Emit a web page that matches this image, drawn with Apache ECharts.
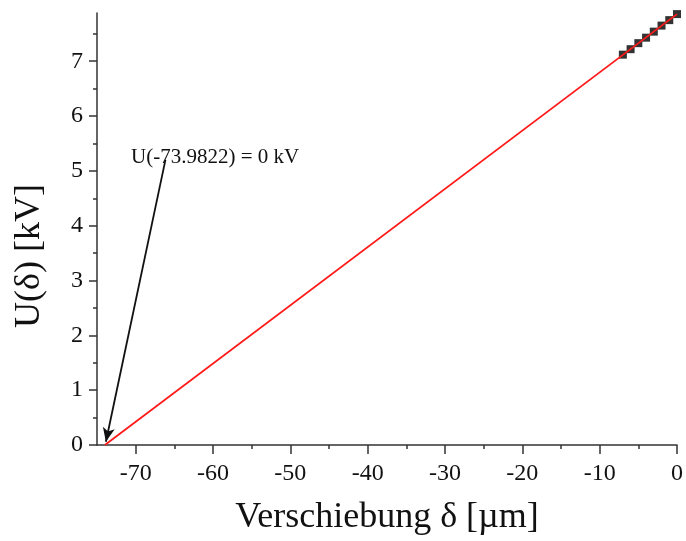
<!DOCTYPE html>
<html>
<head>
<meta charset="utf-8">
<script src="https://cdn.jsdelivr.net/npm/echarts@6/dist/echarts.min.js"></script>
<style>
  html, body { margin: 0; padding: 0; background: #fff; }
  #chart { width: 686px; height: 541px; }
</style>
</head>
<body>
<div id="chart"></div>
<script>
// Measured displacement δ [µm] and voltage U [kV]
const deltaValues = [-7, -6, -5, -4, -3, -2, -1, 0];
const voltageValues = [7.12, 7.22, 7.33, 7.43, 7.54, 7.65, 7.75, 7.86];

// Linear fit, drawn from its zero crossing up to δ = 0
const fitDelta = [-73.9822, 0];
const fitVoltage = [0, 7.86];

// Annotation: text anchor and arrow from text to zero crossing
const annotationText = 'U(-73.9822) = 0 kV';
const annotationAt = [-70.6, 5.24];
const arrowFrom = [-66.15, 5.2];
const arrowTo = [-73.85, 0.06];

// Axis ticks
const xMajorTicks = [-70, -60, -50, -40, -30, -20, -10, 0];
const xMinorTicks = [-65, -55, -45, -35, -25, -15, -5];
const yMajorTicks = [0, 1, 2, 3, 4, 5, 6, 7];
const yMinorTicks = [0.5, 1.5, 2.5, 3.5, 4.5, 5.5, 6.5, 7.5];

const xRange = [-75, 0];
const yRange = [0, 7.88];

const xTitle = 'Verschiebung δ [µm]';
const yTitle = 'U(δ) [kV]';

const FONT = '"Liberation Serif", "DejaVu Serif", serif';
const AXIS_COLOR = '#333';

const chart = echarts.init(document.getElementById('chart'), null, { renderer: 'canvas' });

function xAxisDef(ticks, len, withLabels, withLine, name) {
  return {
    type: 'value', min: xRange[0], max: xRange[1], position: 'bottom',
    name: name || '', nameLocation: 'middle', nameGap: 55,
    nameTextStyle: { fontFamily: FONT, fontSize: 36, color: '#111' },
    axisLine: { show: withLine, onZero: false, lineStyle: { color: AXIS_COLOR, width: 1.5 } },
    axisTick: { show: true, customValues: ticks, length: len, lineStyle: { color: AXIS_COLOR, width: 1.5 } },
    axisLabel: { show: withLabels, customValues: withLabels ? ticks : [], margin: 17,
      fontFamily: FONT, fontSize: 24, color: '#111' },
    splitLine: { show: false }
  };
}
function yAxisDef(ticks, len, withLabels, withLine) {
  return {
    type: 'value', min: yRange[0], max: yRange[1], position: 'left',
    axisLine: { show: withLine, onZero: false, lineStyle: { color: AXIS_COLOR, width: 1.5 } },
    axisTick: { show: true, customValues: ticks, length: len, lineStyle: { color: AXIS_COLOR, width: 1.5 } },
    axisLabel: { show: withLabels, customValues: withLabels ? ticks : [], margin: 14,
      fontFamily: FONT, fontSize: 24, color: '#111' },
    splitLine: { show: false }
  };
}

chart.setOption({
  animation: false,
  backgroundColor: '#fff',
  grid: { left: 97, right: 4, top: 13, bottom: 94, containLabel: false },
  xAxis: [
    xAxisDef(xMajorTicks, 9, true, true, xTitle),
    xAxisDef(xMinorTicks, 4, false, false)
  ],
  yAxis: [
    yAxisDef(yMajorTicks, 8, true, true),
    yAxisDef(yMinorTicks, 4, false, false)
  ],
  // vertical axis title, sitting slightly below the plot's middle
  graphic: [{
    type: 'text', x: 30, y: 256, rotation: Math.PI / 2,
    style: { text: yTitle, font: '36px ' + FONT, fill: '#111',
      textAlign: 'center', textVerticalAlign: 'middle' }
  }],
  series: [
    {
      name: 'Messwerte', type: 'scatter', xAxisIndex: 0, yAxisIndex: 0,
      symbol: 'rect', symbolSize: 8,
      itemStyle: { color: '#000' },
      data: deltaValues.map((d, i) => [d, voltageValues[i]]),
      z: 2
    },
    {
      name: 'Fit', type: 'line', xAxisIndex: 0, yAxisIndex: 0,
      showSymbol: false, symbol: 'none',
      lineStyle: { color: '#ff1a1a', width: 1.8 },
      data: fitDelta.map((d, i) => [d, fitVoltage[i]]),
      z: 3,
      markLine: {
        silent: true, animation: false,
        symbol: ['none', 'arrow'], symbolSize: [9, 14],
        lineStyle: { color: '#111', width: 1.8, type: 'solid' },
        label: { show: false },
        data: [[{ coord: arrowFrom }, { coord: arrowTo }]]
      },
      markPoint: {
        silent: true, animation: false,
        symbol: 'circle', symbolSize: 0,
        label: { show: true, position: 'right', distance: 0, formatter: annotationText,
          fontFamily: FONT, fontSize: 21, color: '#111' },
        data: [{ coord: annotationAt }]
      }
    }
  ]
});
</script>
</body>
</html>
